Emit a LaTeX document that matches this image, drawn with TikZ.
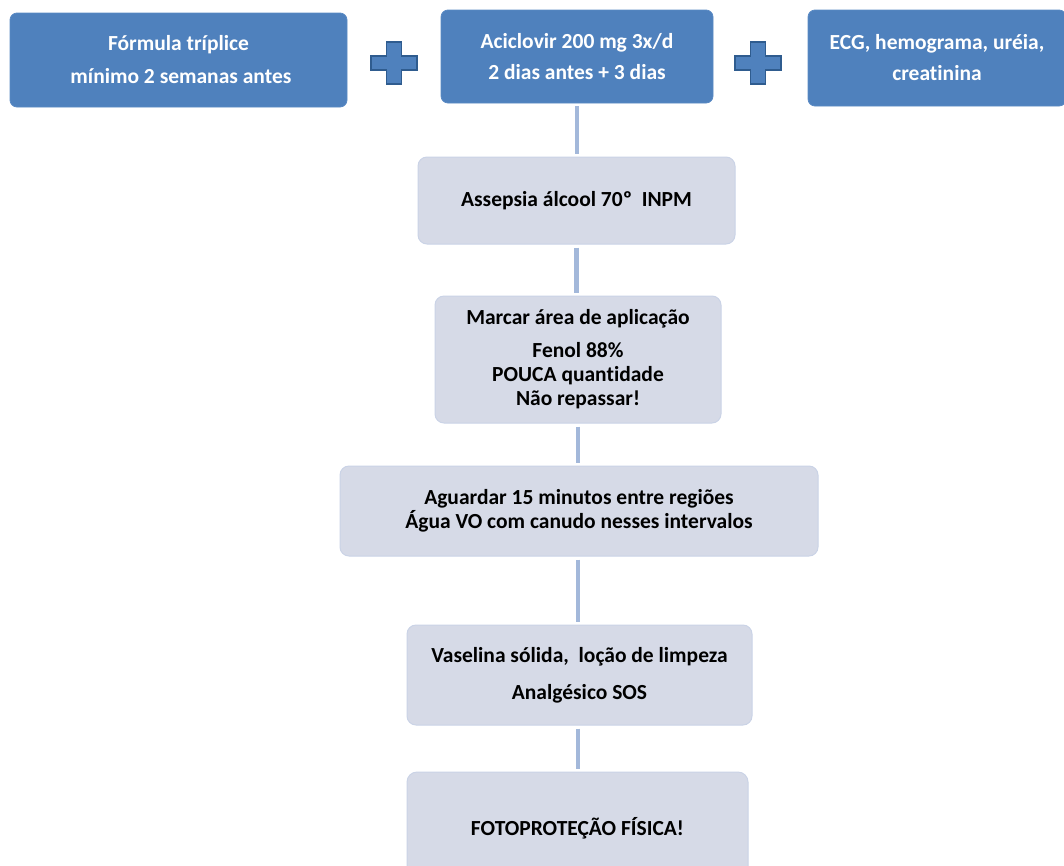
\documentclass[tikz,border=0pt]{standalone}
\usepackage{fontspec}
\setmainfont{Carlito}[Ligatures=NoCommon]
\definecolor{dkblue}{HTML}{4F81BD}
\definecolor{dkborder}{HTML}{5A8AC4}
\definecolor{plusborder}{HTML}{2F5C8F}
\definecolor{ltfill}{HTML}{D6DAE7}
\definecolor{ltborder}{HTML}{CAD3E6}
\definecolor{conn}{HTML}{A3B8DA}
\begin{document}
\begin{tikzpicture}[x=1pt,y=-1pt,
  dkbox/.style={draw=dkborder, line width=0.8pt, fill=dkblue, rounded corners=7pt, text=white,
     align=center, font=\fontsize{21.5}{33}\selectfont\bfseries, inner sep=0pt},
  ltbox/.style={draw=ltborder, line width=1pt, fill=ltfill, rounded corners=9pt, text=black,
     align=center, font=\fontsize{21.5}{24}\selectfont\bfseries, inner sep=0pt},
  connector/.style={draw=conn, line width=4.5pt, shorten <=3pt, shorten >=3pt},
  plusshape/.style={fill=dkblue, draw=plusborder, line width=1.6pt}
]
\useasboundingbox (0,0) rectangle (1064,865);

% top row
\node[dkbox, minimum width=337, minimum height=94] (f) at (178.5,60)
  {Fórmula tríplice\\ \ mínimo 2 semanas antes};
\node[dkbox, minimum width=272, minimum height=93, font=\fontsize{21.5}{31}\selectfont\bfseries] (a) at (577,56.5)
  {Aciclovir 200 mg 3x/d\\2 dias antes + 3 dias};
\node[dkbox, minimum width=258, minimum height=96, font=\fontsize{21.5}{31}\selectfont\bfseries] (e) at (937,58)
  {ECG, hemograma, uréia,\\creatinina};

% plus signs
\foreach \cx/\nm in {394/p1, 758/p2}{
  \coordinate (\nm) at (\cx,63);
  \draw[plusshape] ([shift={(-7.5,-21)}]\nm) -- ([shift={(7.5,-21)}]\nm) -- ([shift={(7.5,-7)}]\nm)
     -- ([shift={(23,-7)}]\nm) -- ([shift={(23,7)}]\nm) -- ([shift={(7.5,7)}]\nm)
     -- ([shift={(7.5,21)}]\nm) -- ([shift={(-7.5,21)}]\nm) -- ([shift={(-7.5,7)}]\nm)
     -- ([shift={(-23,7)}]\nm) -- ([shift={(-23,-7)}]\nm) -- ([shift={(-7.5,-7)}]\nm) -- cycle;
}

% flow boxes
\node[ltbox, minimum width=317, minimum height=87] (s1) at (576.5,200.5)
  {Assepsia álcool 70º\ \ INPM};
\node[ltbox, minimum width=286, minimum height=127] (s2) at (578,359.5)
  {Marcar área de aplicação\\[9pt] Fenol 88\%\\ POUCA quantidade\\ Não repassar!};
\node[ltbox, minimum width=478, minimum height=90] (s3) at (579,511)
  {Aguardar 15 minutos entre regiões\\ Água VO com canudo nesses intervalos};
\node[ltbox, minimum width=345, minimum height=100, font=\fontsize{21.5}{37}\selectfont\bfseries] (s4) at (579.5,675)
  {Vaselina sólida,\ \ loção de limpeza\\ Analgésico SOS};
\node[ltbox, minimum width=341, minimum height=112, rounded corners=10pt] (s5) at (577.5,828)
  {FOTOPROTEÇÃO FÍSICA!};

% connectors
\draw[connector] (a.south) -- (a.south |- s1.north);
\draw[connector] (s1.south) -- (s1.south |- s2.north);
\draw[connector] (s2.south) -- (s2.south |- s3.north);
\draw[connector] (s2.south |- s3.south) -- (s2.south |- s4.north);
\draw[connector] (s2.south |- s4.south) -- (s2.south |- s5.north);
\end{tikzpicture}
\end{document}
